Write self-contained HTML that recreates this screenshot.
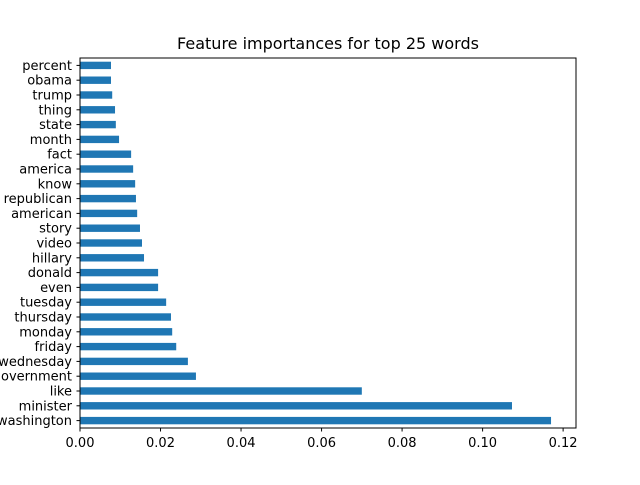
<!DOCTYPE html>
<html><head><meta charset="utf-8"><style>
html,body{margin:0;padding:0;background:#fff;overflow:hidden}
svg text{font-family:"DejaVu Sans","Liberation Sans",sans-serif;fill:#000}
</style></head><body>
<svg id="chart" width="640" height="480" viewBox="0 0 640 480">
<rect width="640" height="480" fill="#fff"/>
<text x="328" y="49" font-size="16" text-anchor="middle">Feature importances for top 25 words</text>
<g id="bars"></g>
<g id="yticks"></g>
<g id="xticks"></g>
<rect x="80" y="58" width="496" height="370" fill="none" stroke="#000" stroke-width="1"/>
</svg>
<script>
const categories = ["washington","minister","like","government","wednesday","friday","monday","thursday","tuesday","even","donald","hillary","video","story","american","republican","know","america","fact","month","state","thing","trump","obama","percent"];
const values = [0.117,0.1073,0.070,0.0288,0.0268,0.0239,0.0229,0.0226,0.0214,0.0194,0.0194,0.0159,0.0154,0.0149,0.0142,0.0139,0.0137,0.0132,0.0127,0.0097,0.0089,0.0087,0.0080,0.0077,0.0077];
const xTicks = [0,0.02,0.04,0.06,0.08,0.10,0.12];
const xTickLabels = ["0.00","0.02","0.04","0.06","0.08","0.10","0.12"];

const L=80,R=576,T=58,B=428, xMax=0.1232;
const ns="http://www.w3.org/2000/svg";
function xs(v){return L+v/xMax*(R-L);}
function ys(i){return B-(i+0.5)*(B-T)/categories.length;}
const bh=0.5*(B-T)/categories.length;
const gb=document.getElementById('bars'),gy=document.getElementById('yticks'),gx=document.getElementById('xticks');
categories.forEach((c,i)=>{
  const r=document.createElementNS(ns,'rect');
  r.setAttribute('x',L);r.setAttribute('y',ys(i)-bh/2);
  r.setAttribute('width',xs(values[i])-L);r.setAttribute('height',bh);
  r.setAttribute('fill','#1f77b4');
  
  
  gb.appendChild(r);
  const t=document.createElementNS(ns,'line');
  t.setAttribute('x1',L-3.5);t.setAttribute('x2',L);t.setAttribute('y1',ys(i));t.setAttribute('y2',ys(i));t.setAttribute('stroke','#000');
  
  
  gy.appendChild(t);
  const tx=document.createElementNS(ns,'text');
  tx.setAttribute('x',L-8);tx.setAttribute('y',ys(i)+4.5);tx.setAttribute('font-size','13');tx.setAttribute('text-anchor','end');
  tx.textContent=c;
  
  
  gy.appendChild(tx);
});
xTicks.forEach((v,i)=>{
  const t=document.createElementNS(ns,'line');
  t.setAttribute('x1',xs(v));t.setAttribute('x2',xs(v));t.setAttribute('y1',B);t.setAttribute('y2',B+3.5);t.setAttribute('stroke','#000');
  
  
  gx.appendChild(t);
  const tx=document.createElementNS(ns,'text');
  tx.setAttribute('x',xs(v));tx.setAttribute('y',B+19);tx.setAttribute('font-size','13');tx.setAttribute('text-anchor','middle');
  tx.textContent=xTickLabels[i];
  
  
  gx.appendChild(tx);
});
</script>
</body></html>
